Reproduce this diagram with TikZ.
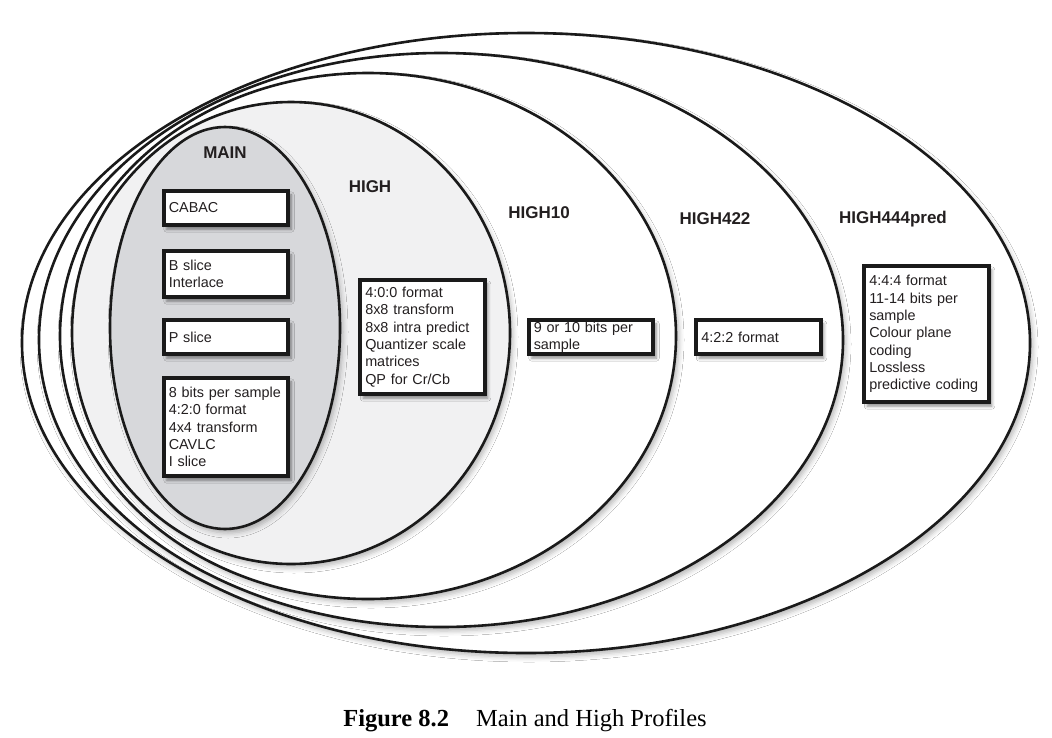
\documentclass[tikz,border=0pt]{standalone}
\usepackage{fontspec}
\setmainfont{Liberation Sans}
\newfontfamily\capfont{Liberation Serif}
\usetikzlibrary{shapes.geometric,shadows.blur}
\definecolor{linec}{HTML}{1A1A1A}
\definecolor{mainfill}{HTML}{D7D8DB}
\definecolor{highfill}{HTML}{F1F1F2}
\definecolor{txt}{HTML}{231F20}
\begin{document}
\begin{tikzpicture}[x=1pt,y=-1pt,
  prof/.style={ellipse, draw=linec, line width=2.6pt, inner sep=0pt, fill=white,
    blur shadow={shadow xshift=3pt, shadow yshift=-4pt, shadow blur radius=5pt, shadow opacity=28}},
  feat/.style={draw=linec, line width=3.6pt, fill=white, text width=114.5pt, align=left,
    inner xsep=5pt, inner ysep=0pt, font=\fontsize{14.4}{17.3}\selectfont, text=txt,
    blur shadow={shadow xshift=3pt, shadow yshift=-4pt, shadow blur radius=3pt, shadow opacity=45}},
  lbl/.style={font=\bfseries\fontsize{17}{20}\selectfont, text=txt}
]
\useasboundingbox[fill=white] (0,0) rectangle (1052,737);

% profile ellipses
\node[prof, minimum width=1008pt, minimum height=620pt] (h444e) at (526,343) {};
\node[prof, minimum width=804pt, minimum height=574pt] (h422e) at (441,340) {};
\node[prof, minimum width=616pt, minimum height=526pt] (h10e) at (368,336) {};
\node[prof, fill=highfill, minimum width=438pt, minimum height=462pt] (highe) at (291,333) {};
\node[prof, fill=mainfill, minimum width=230pt, minimum height=402pt] (maine) at (225,328) {};

% labels
\node[lbl] (mainl) at (225,153) {MAIN};
\node[lbl] (highl) at (370,187) {HIGH};
\node[lbl] (h10l) at (539,213) {HIGH10};
\node[lbl] (h422l) at (715,219) {HIGH422};
\node[lbl] (h444l) at (893,219) {HIGH444pred};

% feature boxes
\node[feat, minimum height=34.4pt] (cabac) at (226,208) {CABAC};
\node[feat, minimum height=46.4pt] (bslice) at (226,274) {B slice\\Interlace};
\node[feat, minimum height=34.4pt] (pslice) at (226,337) {P slice};
\node[feat, minimum height=98.4pt] (ibase) at (226,427) {8 bits per sample\\4:2:0 format\\4x4 transform\\CAVLC\\I slice};
\node[feat, minimum height=114.4pt] (highb) at (422.5,337) {4:0:0 format\\8x8 transform\\8x8 intra predict\\Quantizer scale\\matrices\\QP for Cr/Cb};
\node[feat, minimum height=34.4pt] (h10b) at (591,337) {9 or 10 bits per\\sample};
\node[feat, minimum height=34.4pt] (h422b) at (758.5,337) {4:2:2 format};
\node[feat, minimum height=136.4pt] (h444b) at (926.5,334) {4:4:4 format\\11-14 bits per\\sample\\Colour plane\\coding\\Lossless\\predictive coding};

% caption
\node[anchor=base, font=\capfont\fontsize{24.5}{28}\selectfont, text=black, inner sep=0pt] (cap) at (525,726)
  {{\bfseries Figure 8.2}\hspace{27pt}Main and High Profiles};
\end{tikzpicture}
\end{document}
